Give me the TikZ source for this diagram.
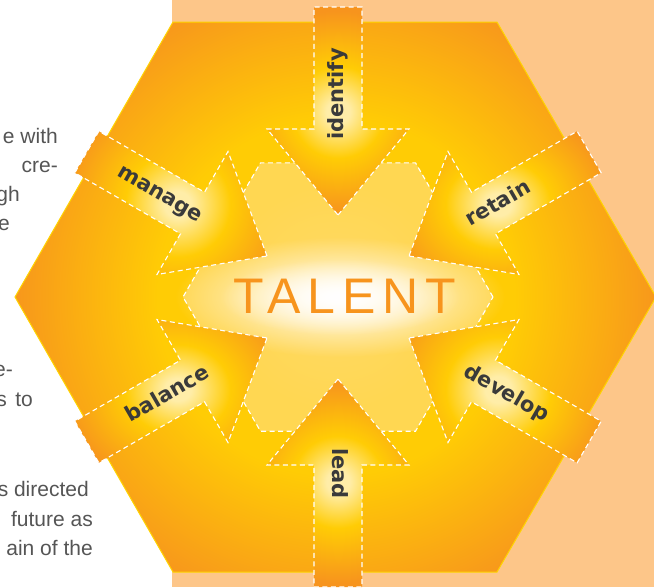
\documentclass[tikz,border=0pt]{standalone}
\usepackage{fontspec}
\setmainfont{Liberation Sans}
\newfontfamily\labelfont{DejaVu Sans}
\newfontfamily\talentfont[LetterSpace=14]{Liberation Sans}
\usetikzlibrary{fadings}

\definecolor{peach}{HTML}{FDC689}
\definecolor{hexorange}{HTML}{F7941D}
\definecolor{hexyellow}{HTML}{FFCC05}
\definecolor{cream}{HTML}{FFEDA8}
\definecolor{innerfill}{HTML}{FFDA66}
\definecolor{rim}{HTML}{FFD400}
\definecolor{labelgray}{HTML}{3A3A3A}
\definecolor{bodygray}{HTML}{555555}

% radial colour ramps: 25bp is mapped onto the radius of the shaded circle
\pgfdeclareradialshading{hexglow}{\pgfpoint{0bp}{0bp}}{%
  color(0bp)=(innerfill); color(8.5bp)=(hexyellow); color(13.5bp)=(hexyellow);
  color(25bp)=(hexorange); color(50bp)=(hexorange)}
\pgfdeclareradialshading{arrowglow}{\pgfpoint{0bp}{0bp}}{%
  color(0bp)=(cream); color(2.5bp)=(cream); color(10bp)=(hexyellow);
  color(22bp)=(hexorange); color(50bp)=(hexorange)}

\tikzfading[name=softglow, inner color=transparent!0, outer color=transparent!100]

\tikzset{
  dashline/.style={draw=white, line width=1.1pt, dash pattern=on 5pt off 3.5pt},
  bodytext/.style={font=\fontsize{21}{21}\selectfont, text=bodygray, anchor=base east, inner sep=0pt},
  arrowlabel/.style={font=\labelfont\bfseries\fontsize{21}{21}\selectfont, text=labelgray,
    inner sep=0pt, text height=15pt, text depth=4pt},
  talent/.style={font=\talentfont\fontsize{50}{50}\selectfont, text=hexorange, anchor=base, inner sep=0pt}
}

% one inward arrow, drawn along the local x axis (tip towards the centre)
\def\arrowpath{(82,0) -- (168,71) -- (168,24) -- (290,24) -- (290,-24) -- (168,-24) -- (168,-71) -- cycle}
\newcommand{\talentarrow}[3]{%
  \begin{scope}[shift={(338,297)}, rotate=#1]
    \begin{scope}
      \clip \arrowpath;
      \shade[shading=arrowglow] (185,0) circle (115);
    \end{scope}
    \draw[dashline] \arrowpath;
    \coordinate (#2) at (#3,0);
  \end{scope}}

\begin{document}
\begin{tikzpicture}[x=1pt, y=-1pt]
  \useasboundingbox (0,0) rectangle (654,587);
  \clip (0,0) rectangle (654,587);
  \fill[white] (0,0) rectangle (654,587);

  % body text running along the left margin
  \node[bodytext] (t1) at (58,143) {e with};
  \node[bodytext] (t2) at (58,172) {cre-};
  \node[bodytext] (t3) at (20,201) {gh};
  \node[bodytext] (t4) at (10,230) {e};
  \node[bodytext] (t5) at (13,376) {e-};
  \node[bodytext] (t6) at (7,406) {s};
  \node[bodytext] (t7) at (33,406) {to};
  \node[bodytext] (t8) at (89,496) {s directed};
  \node[bodytext] (t9) at (93,526) {future as};
  \node[bodytext] (t10) at (93,555) {ain of the};

  % peach panel
  \fill[peach] (172,0) rectangle (654,587);

  % large hexagon
  \def\bighex{(173,22) -- (497,22) -- (656,297) -- (497,572) -- (173,572) -- (15,297) -- cycle}
  \begin{scope}
    \clip \bighex;
    \shade[shading=hexglow] (336,297) circle (330);
  \end{scope}
  \draw[rim, line width=1pt] \bighex;

  % inner hexagon with central glow
  \def\innerhex{(493,297) -- (415.5,162.8) -- (260.5,162.8) -- (183,297) -- (260.5,431.2) -- (415.5,431.2) -- cycle}
  \fill[innerfill, opacity=0.8] \innerhex;
  \fill[white, path fading=softglow] (340,297) ellipse (165 and 60);
  \fill[white, path fading=softglow] (340,297) ellipse (120 and 38);
  \draw[dashline] \innerhex;

  % six arrows
  \talentarrow{90}{pidentify}{157}
  \talentarrow{30}{pretain}{150}
  \talentarrow{-30}{pdevelop}{147}
  \talentarrow{-90}{plead}{151}
  \talentarrow{210}{pbalance}{150}
  \talentarrow{150}{pmanage}{158}

  \node[arrowlabel, rotate=90, anchor=west] (identify) at (pidentify) {identify};
  \node[arrowlabel, rotate=30, anchor=west] (retain) at (pretain) {retain};
  \node[arrowlabel, rotate=-30, anchor=west] (develop) at (pdevelop) {develop};
  \node[arrowlabel, rotate=-90, anchor=west] (lead) at (plead) {lead};
  \node[arrowlabel, rotate=30, anchor=east] (balance) at (pbalance) {balance};
  \node[arrowlabel, rotate=-30, anchor=east] (manage) at (pmanage) {manage};

  \node[talent] (talentword) at (345,313) {TALENT};
\end{tikzpicture}
\end{document}
